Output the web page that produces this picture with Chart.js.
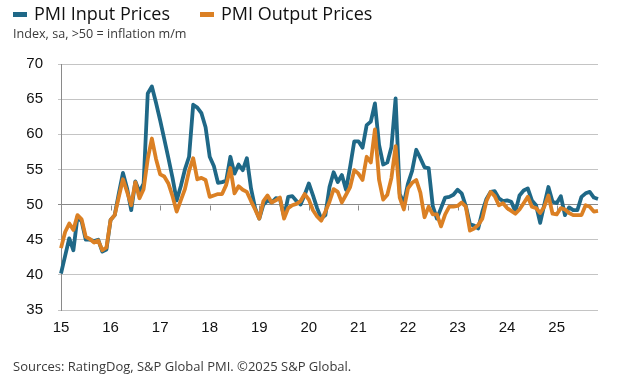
<!DOCTYPE html>
<html>
<head>
<meta charset="utf-8">
<script src="https://cdn.jsdelivr.net/npm/chart.js@4.4.1/dist/chart.umd.min.js"></script>
<style>
    body { margin: 0; background: #fff; }
    #wrap { position: relative; width: 620px; height: 386px; font-family: "Open Sans", sans-serif; }
    #myChart { position: absolute; left: 0; top: 0; }
    .mark { position: absolute; width: 14px; height: 5px; top: 12px; }
    .leg { position: absolute; top: 4px; font-size: 18px; line-height: 18px; color: #111; white-space: nowrap; }
    .note { position: absolute; left: 13px; line-height: 13px; color: #3a3a3a; white-space: nowrap; }
</style>
</head>
<body>
<div id="wrap">
    <canvas id="myChart" width="620" height="386"></canvas>
    <div id="legend"></div>
    <div class="note" style="top:27px; font-size:12.6px">Index, sa, &gt;50 = inflation m/m</div>
    <div class="note" style="top:360px; font-size:13px">Sources: RatingDog, S&amp;P Global PMI. ©2025 S&amp;P Global.</div>
</div>
<script>
// Label tahun di sumbu x (Januari tiap tahun)
var yearLabels = ['15', '16', '17', '18', '19', '20', '21', '22', '23', '24', '25'];

// Data bulanan Jan 2015 - Nov 2025
var inputPrices = [
    40.2, 42.7, 45.2, 43.5, 48.3, 47.6, 45.0, 45.0, 44.8, 45.0, 43.3, 43.6,
    47.8, 48.5, 51.6, 54.5, 52.3, 49.2, 53.3, 51.8, 53.0, 65.8, 66.8, 64.5,
    62.0, 59.3, 56.6, 53.8, 50.6, 52.6, 55.0, 56.8, 64.2, 63.8, 63.0, 61.0,
    56.8, 55.5, 53.1, 53.2, 53.4, 56.8, 54.4, 55.7, 54.9, 56.6, 52.3, 49.5,
    48.0, 50.0, 50.6, 50.3, 50.9, 50.8, 48.3, 51.1, 51.2, 50.5, 50.0, 51.4,
    53.0, 51.3, 49.5, 48.0, 48.5, 52.5, 54.6, 53.2, 54.2, 52.1, 55.4, 59.0,
    59.0, 58.1, 61.3, 61.8, 64.4, 58.5, 55.7, 56.0, 58.2, 65.1, 51.5, 50.2,
    53.0, 54.8, 57.8, 56.6, 55.3, 55.2, 49.8, 48.0, 49.5, 51.0, 51.1, 51.4,
    52.1, 51.6, 49.8, 47.2, 47.0, 46.6, 49.0, 50.8, 51.8, 51.9, 50.9, 50.5,
    50.6, 50.4, 49.0, 51.3, 52.0, 52.3, 50.6, 49.9, 47.4, 50.0, 52.5, 50.4,
    50.2, 51.2, 48.5, 49.6, 49.2, 49.2, 51.1, 51.6, 51.8, 51.0, 50.8
];
var outputPrices = [
    43.8, 46.1, 47.3, 46.4, 48.5, 47.9, 45.4, 45.1, 44.6, 44.9, 43.5, 43.9,
    47.8, 48.5, 51.1, 53.6, 51.8, 49.9, 53.2, 50.9, 52.2, 56.5, 59.4, 56.5,
    54.3, 54.0, 53.0, 51.2, 49.0, 50.6, 52.2, 54.8, 56.6, 53.6, 53.8, 53.5,
    51.1, 51.3, 51.5, 51.5, 52.8, 55.2, 51.6, 52.6, 52.1, 51.8, 50.5, 49.3,
    48.0, 50.5, 51.3, 50.3, 50.6, 51.0, 48.0, 49.5, 49.9, 50.1, 50.5, 51.5,
    50.7, 49.2, 48.3, 47.7, 49.0, 50.4, 52.2, 51.8, 50.3, 51.4, 52.5, 54.9,
    54.4, 53.5, 56.8, 56.0, 60.7, 53.5, 50.7, 51.4, 53.8, 58.3, 51.0, 49.3,
    52.3, 53.1, 53.5, 51.7, 48.2, 49.7, 48.6, 48.6, 46.9, 48.6, 49.7, 49.7,
    49.8, 50.3, 49.7, 46.3, 46.6, 47.1, 48.0, 50.5, 51.8, 51.2, 49.9, 50.2,
    49.5, 49.1, 48.7, 49.3, 50.2, 51.1, 49.7, 49.5, 48.8, 49.7, 51.3, 48.7,
    48.6, 49.5, 49.3, 48.8, 48.5, 48.5, 48.5, 49.9, 49.7, 49.0, 49.1
];

var seriesNames = ['PMI Input Prices', 'PMI Output Prices'];
var seriesColors = ['#1f6887', '#db8024'];

// Kategori bulan
var months = [];
for (var i = 0; i < inputPrices.length; i++) {
    months.push('20' + yearLabels[Math.floor(i / 12)] + '-' + (i % 12 + 1));
}

// Legend manual
var legend = document.getElementById('legend');
var legendPos = [[13, 34], [200, 221]];
seriesNames.forEach(function(name, k) {
    var m = document.createElement('div');
    m.className = 'mark';
    m.style.left = legendPos[k][0] + 'px';
    m.style.background = seriesColors[k];
    legend.appendChild(m);
    var t = document.createElement('div');
    t.className = 'leg';
    t.style.left = legendPos[k][1] + 'px';
    t.textContent = name;
    legend.appendChild(t);
});

// Garis tick tahun di garis 50
var axis50Ticks = {
    id: 'axis50Ticks',
    beforeDatasetsDraw: function(chart) {
        var ctx = chart.ctx;
        var x = chart.scales.x, y = chart.scales.y;
        var y50 = Math.round(y.getPixelForValue(50)) + 0.5;
        ctx.save();
        ctx.strokeStyle = '#8a8a8a';
        ctx.lineWidth = 1;
        ctx.beginPath();
        for (var i = 12; i < months.length; i += 12) {
            var px = Math.round(x.getPixelForValue(i)) + 0.5;
            ctx.moveTo(px, y50);
            ctx.lineTo(px, y50 + 5);
        }
        ctx.stroke();
        ctx.restore();
    }
};

var ctx = document.getElementById('myChart').getContext('2d');
window.myChart = new Chart(ctx, {
    type: 'line',
    data: {
        labels: months,
        datasets: [{
                label: seriesNames[1],
                data: outputPrices,
                borderColor: seriesColors[1],
                backgroundColor: seriesColors[1]
            },
            {
                label: seriesNames[0],
                data: inputPrices,
                borderColor: seriesColors[0],
                backgroundColor: seriesColors[0]
            }
        ]
    },
    options: {
        responsive: false,
        animation: false,
        devicePixelRatio: 1,
        layout: { padding: { top: 64, right: 22, bottom: 46, left: 0 } },
        elements: {
            line: { borderWidth: 3.8, tension: 0, borderJoinStyle: 'round' },
            point: { radius: 0 }
        },
        plugins: {
            legend: { display: false },
            tooltip: { enabled: false }
        },
        scales: {
            x: {
                grid: { display: false, drawTicks: false },
                border: { display: false },
                ticks: {
                    autoSkip: false,
                    maxRotation: 0,
                    padding: 9,
                    color: '#111',
                    font: { family: 'Liberation Sans', size: 15 },
                    callback: function(val, index) {
                        return index % 12 === 0 ? yearLabels[index / 12] : '';
                    }
                },
                afterFit: function(scale) { scale.height = 30; }
            },
            y: {
                min: 35,
                max: 70,
                ticks: {
                    stepSize: 5,
                    padding: 15,
                    color: '#111',
                    font: { family: 'Liberation Sans', size: 15 }
                },
                grid: {
                    color: function(c) { return c.tick && c.tick.value === 50 ? '#8a8a8a' : '#c4c4c4'; },
                    lineWidth: 1,
                    tickLength: 3
                },
                border: { color: '#8a8a8a', width: 1 },
                afterFit: function(scale) { scale.width = 61; }
            }
        }
    },
    plugins: [axis50Ticks]
});
</script>
</body>
</html>
